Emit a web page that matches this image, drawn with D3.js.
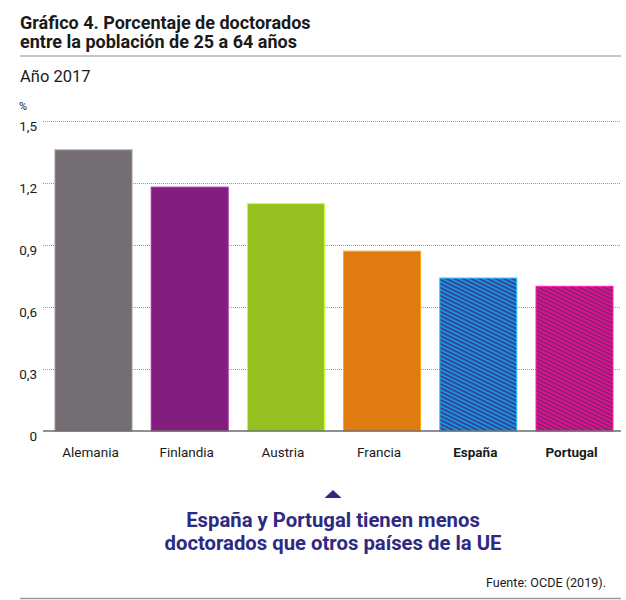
<!DOCTYPE html>
<html>
<head>
<meta charset="utf-8">
<script src="https://cdn.jsdelivr.net/npm/d3@7"></script>
<style>
  body { margin: 0; background: #fff; }
  svg { display: block; font-family: "Roboto", "Liberation Sans", sans-serif; }
</style>
</head>
<body>
<svg id="chart"></svg>
<script>
// datos del gráfico (OCDE 2019, año 2017)
const paises = ["Alemania", "Finlandia", "Austria", "Francia", "España", "Portugal"];
const valores = [1.36, 1.18, 1.10, 0.87, 0.74, 0.70];
const destacados = ["España", "Portugal"];
const ticksY = [0, 0.3, 0.6, 0.9, 1.2, 1.5];

// colores de cada barra (las dos últimas con rayado)
const colores = ["#756d74", "#821e7e", "#94c11f", "#df7b0f", "#1e90d8", "#e0147f"];
const rayas = [null, null, null, null, "#33378f", "#7b1f86"];

let svg = {width: 626, height: 600}
let plot = {left: 43, right: 621, top: 121, bottom: 431}

let frame = d3.select("#chart")
  .attr("width", svg.width)
  .attr("height", svg.height)

// patrones de rayas para España y Portugal
let defs = frame.append("defs")
colores.forEach(function(c, i) {
  if (!rayas[i]) return;
  let p = defs.append("pattern")
    .attr("id", "raya" + i)
    .attr("patternUnits", "userSpaceOnUse")
    .attr("width", 10)
    .attr("height", 3.6)
    .attr("patternTransform", "rotate(26)")
  p.append("rect").attr("width", 10).attr("height", 3.6).attr("fill", c)
  p.append("rect").attr("width", 10).attr("height", 1.5).attr("fill", rayas[i])
})

// ---- título
frame.append("text")
  .attr("x", 20).attr("y", 29)
  .attr("font-size", 18).attr("font-weight", "bold").attr("fill", "#1a1a1a")
  .text("Gráfico 4. Porcentaje de doctorados")
frame.append("text")
  .attr("x", 20).attr("y", 48)
  .attr("font-size", 18).attr("font-weight", "bold").attr("fill", "#1a1a1a")
  .text("entre la población de 25 a 64 años")

frame.append("line")
  .attr("x1", 20).attr("x2", 621).attr("y1", 56).attr("y2", 56)
  .attr("stroke", "#b3b3b3").attr("stroke-width", 1.5)

frame.append("text")
  .attr("x", 20).attr("y", 82)
  .attr("font-size", 16.5).attr("fill", "#1a1a1a")
  .text("Año 2017")

frame.append("text")
  .attr("x", 19).attr("y", 110)
  .attr("font-size", 11).attr("fill", "#1a1a1a")
  .text("%")

// ---- escalas
let x = d3.scaleBand()
  .domain(paises)
  .range([45.4, 622.6])
  .paddingInner(0.2)
  .paddingOuter(0.1)

let y = d3.scaleLinear()
  .domain([0, 1.5])
  .range([plot.bottom, plot.top])

let es = d3.formatLocale({decimal: ",", thousands: ".", grouping: [3], currency: ["", "€"]})
let fmt = es.format(".1f")

// eje y con líneas de cuadrícula punteadas
let gy = frame.append("g")
  .attr("transform", "translate(" + plot.left + ",0)")
  .call(d3.axisLeft(y)
    .tickValues(ticksY)
    .tickSize(-(plot.right - plot.left))
    .tickPadding(6)
    .tickFormat(d => d === 0 ? "0" : fmt(d)))
gy.select(".domain").remove()
gy.selectAll(".tick line")
  .attr("stroke", "#9a9a9a")
  .attr("stroke-dasharray", "1,1")
  .filter(d => d === 0).remove()
gy.selectAll(".tick text")
  .attr("font-size", 13.5)
  .attr("font-family", "Roboto, 'Liberation Sans', sans-serif")
  .attr("fill", "#1a1a1a")
  .attr("dy", "0.68em")

// ---- barras
frame.append("g")
  .selectAll("rect")
  .data(paises)
  .enter()
  .append("rect")
  .attr("x", d => x(d))
  .attr("width", x.bandwidth())
  .attr("y", (d, i) => y(valores[i]))
  .attr("height", (d, i) => y(0) - y(valores[i]))
  .attr("fill", (d, i) => rayas[i] ? "url(#raya" + i + ")" : colores[i])
  .attr("stroke", (d, i) => d3.color(colores[i]).brighter(0.8))
  .attr("stroke-width", 1)

// línea base
frame.append("line")
  .attr("x1", plot.left).attr("x2", plot.right)
  .attr("y1", y(0)).attr("y2", y(0))
  .attr("stroke", "#6b6b6b").attr("stroke-width", 1.3)

// eje x (nombres de países)
let gx = frame.append("g")
  .attr("transform", "translate(-3," + plot.bottom + ")")
  .call(d3.axisBottom(x).tickSize(0).tickPadding(16))
gx.select(".domain").remove()
gx.selectAll(".tick text")
  .attr("font-size", 13.5)
  .attr("font-family", "Roboto, 'Liberation Sans', sans-serif")
  .attr("fill", "#1a1a1a")
  .attr("font-weight", d => destacados.includes(d) ? "bold" : "normal")

// ---- nota destacada
let cx = 333
frame.append("path")
  .attr("d", "M" + (cx - 8.5) + ",498 L" + cx + ",490 L" + (cx + 8.5) + ",498 Z")
  .attr("fill", "#2e2a82")

frame.append("text")
  .attr("x", cx).attr("y", 527)
  .attr("text-anchor", "middle")
  .attr("font-size", 20.3).attr("font-weight", "bold").attr("fill", "#2e2a82")
  .text("España y Portugal tienen menos")
frame.append("text")
  .attr("x", cx).attr("y", 550)
  .attr("text-anchor", "middle")
  .attr("font-size", 20.3).attr("font-weight", "bold").attr("fill", "#2e2a82")
  .text("doctorados que otros países de la UE")

// ---- fuente
frame.append("text")
  .attr("x", 606).attr("y", 587)
  .attr("text-anchor", "end")
  .attr("font-size", 12.6).attr("fill", "#1a1a1a")
  .text("Fuente: OCDE (2019).")

frame.append("line")
  .attr("x1", 20).attr("x2", 621).attr("y1", 598.5).attr("y2", 598.5)
  .attr("stroke", "#9a9a9a").attr("stroke-width", 1.5)
</script>
</body>
</html>
